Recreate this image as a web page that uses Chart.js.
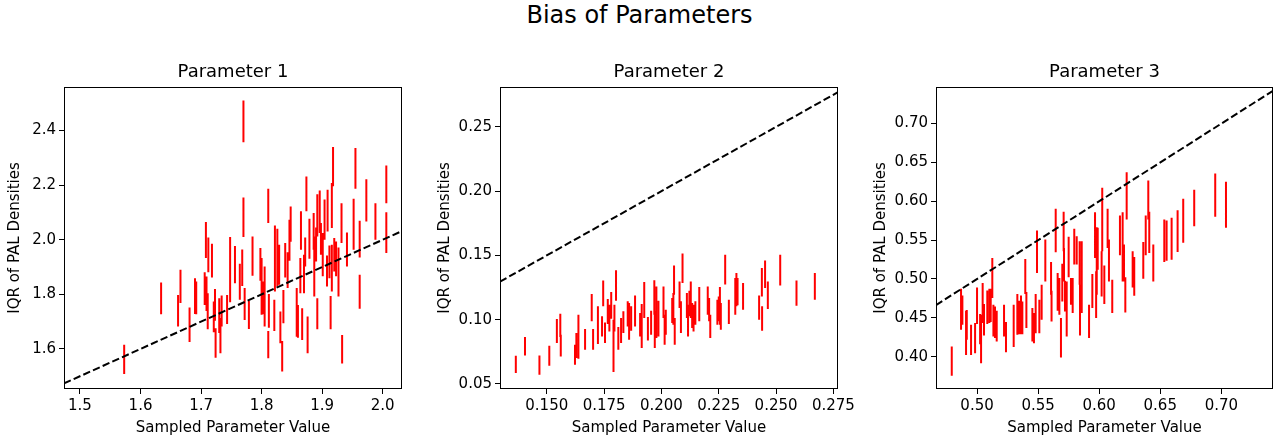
<!DOCTYPE html>
<html>
<head>
<meta charset="utf-8">
<title>Bias of Parameters</title>
<script src="https://cdn.jsdelivr.net/npm/chart.js@4.4.1/dist/chart.umd.min.js"></script>
<style>
  html, body { margin: 0; padding: 0; background: #fff; }
  #wrap { position: relative; width: 1279px; height: 441px; overflow: hidden; }
  #suptitle {
    position: absolute; top: 0; left: 0; width: 1279px;
    text-align: center; font: 24px "DejaVu Sans", sans-serif;
    line-height: 30px; color: #000;
  }
  canvas { position: absolute; top: 50px; }
</style>
</head>
<body>
<div id="wrap">
  <div id="suptitle">Bias of Parameters</div>
  <canvas id="p1"></canvas>
  <canvas id="p2"></canvas>
  <canvas id="p3"></canvas>
</div>
<script>
// ---------- data ----------
const panelTitles = ['Parameter 1', 'Parameter 2', 'Parameter 3'];
const xAxisTitle = 'Sampled Parameter Value';
const yAxisTitle = 'IQR of PAL Densities';

// tick labels per panel
const xTicks1 = ['1.5', '1.6', '1.7', '1.8', '1.9', '2.0'];
const yTicks1 = ['1.6', '1.8', '2.0', '2.2', '2.4'];
const xTicks2 = ['0.150', '0.175', '0.200', '0.225', '0.250', '0.275'];
const yTicks2 = ['0.05', '0.10', '0.15', '0.20', '0.25'];
const xTicks3 = ['0.50', '0.55', '0.60', '0.65', '0.70'];
const yTicks3 = ['0.40', '0.45', '0.50', '0.55', '0.60', '0.65', '0.70'];

// axis ranges [min, max]
const xRange1 = [1.4736, 2.0319];
const yRange1 = [1.4532, 2.5596];
const xRange2 = [0.1296, 0.2770];
const yRange2 = [0.0461, 0.2810];
const xRange3 = [0.4664, 0.7423];
const yRange3 = [0.3584, 0.7471];

// Parameter 1: sampled value, IQR lower / upper
const p1X = [1.573, 1.634, 1.662, 1.666, 1.681, 1.690, 1.692, 1.706, 1.708, 1.709, 1.711, 1.712, 1.718, 1.721, 1.723, 1.724, 1.730, 1.732, 1.734, 1.743, 1.748, 1.756, 1.764, 1.768, 1.770, 1.770, 1.772, 1.779, 1.785, 1.798, 1.800, 1.802, 1.805, 1.811, 1.811, 1.812, 1.821, 1.822, 1.826, 1.829, 1.831, 1.834, 1.836, 1.839, 1.843, 1.846, 1.848, 1.858, 1.860, 1.864, 1.865, 1.867, 1.870, 1.872, 1.874, 1.876, 1.879, 1.886, 1.887, 1.890, 1.892, 1.892, 1.896, 1.898, 1.901, 1.904, 1.908, 1.909, 1.912, 1.914, 1.916, 1.916, 1.918, 1.920, 1.923, 1.927, 1.932, 1.933, 1.941, 1.952, 1.955, 1.962, 1.962, 1.973, 1.988, 2.006, 2.006];
const p1Lo = [1.508, 1.727, 1.682, 1.768, 1.625, 1.728, 1.727, 1.761, 1.933, 1.739, 1.672, 1.881, 1.862, 1.661, 1.703, 1.568, 1.658, 1.584, 1.682, 1.691, 1.771, 1.841, 1.780, 1.831, 2.357, 2.010, 1.706, 1.673, 1.868, 1.850, 1.725, 1.727, 1.682, 2.061, 1.566, 1.678, 1.666, 1.810, 1.829, 1.835, 1.621, 1.517, 1.694, 1.862, 1.823, 1.923, 1.993, 1.645, 1.641, 1.804, 1.963, 1.633, 1.804, 1.902, 2.104, 1.584, 1.930, 1.963, 1.792, 1.920, 2.012, 1.672, 2.025, 1.945, 1.866, 2.000, 1.829, 2.030, 1.859, 1.672, 2.043, 1.810, 2.196, 1.884, 1.866, 1.792, 1.988, 1.547, 1.902, 1.963, 2.187, 1.935, 1.747, 2.067, 2.000, 2.134, 1.951];
const p1Hi = [1.615, 1.843, 1.798, 1.890, 1.752, 1.859, 1.847, 1.881, 2.065, 1.865, 1.804, 2.008, 1.985, 1.774, 1.820, 1.676, 1.786, 1.713, 1.796, 1.798, 2.010, 1.977, 1.912, 1.964, 2.510, 2.155, 1.823, 1.776, 2.012, 1.970, 1.933, 1.847, 1.902, 2.187, 1.666, 1.801, 1.780, 2.052, 2.040, 1.982, 1.737, 1.629, 1.816, 1.988, 1.954, 2.073, 2.122, 1.823, 1.761, 1.933, 2.104, 1.749, 1.945, 2.008, 2.232, 1.719, 2.077, 2.098, 2.012, 2.045, 2.167, 1.786, 2.180, 2.061, 2.025, 2.147, 1.942, 2.183, 1.979, 1.794, 2.208, 1.982, 2.340, 2.006, 1.994, 1.972, 2.134, 1.651, 2.027, 2.150, 2.336, 2.070, 1.872, 2.222, 2.134, 2.272, 2.101];

// Parameter 2
const p2X = [0.1365, 0.1405, 0.1468, 0.1511, 0.1544, 0.1559, 0.1561, 0.1623, 0.1629, 0.1638, 0.1667, 0.1696, 0.1702, 0.1723, 0.1741, 0.1746, 0.1754, 0.1766, 0.1773, 0.1781, 0.1791, 0.1795, 0.1802, 0.1812, 0.1824, 0.1834, 0.1853, 0.1859, 0.1868, 0.1885, 0.1907, 0.1914, 0.1925, 0.1941, 0.1955, 0.1969, 0.1971, 0.1978, 0.1987, 0.2009, 0.2014, 0.2019, 0.2047, 0.2052, 0.2055, 0.2058, 0.2079, 0.2085, 0.2092, 0.2111, 0.2116, 0.2122, 0.2128, 0.2134, 0.2140, 0.2148, 0.2165, 0.2202, 0.2208, 0.2213, 0.2244, 0.2250, 0.2255, 0.2259, 0.2278, 0.2294, 0.2322, 0.2327, 0.2332, 0.2356, 0.2426, 0.2438, 0.2439, 0.2452, 0.2464, 0.2518, 0.2589, 0.2669];
const p2Lo = [0.0585, 0.0722, 0.0572, 0.0642, 0.0819, 0.0865, 0.0714, 0.0650, 0.0702, 0.0696, 0.0766, 0.0987, 0.0766, 0.0811, 0.0870, 0.1104, 0.0819, 0.0966, 0.0909, 0.1008, 0.0593, 0.0909, 0.1148, 0.0766, 0.0819, 0.0896, 0.0948, 0.0844, 0.0914, 0.0948, 0.0870, 0.0780, 0.1013, 0.0839, 0.0883, 0.1039, 0.0780, 0.0857, 0.0870, 0.1013, 0.0805, 0.0883, 0.0974, 0.0961, 0.1195, 0.0805, 0.1091, 0.0896, 0.1286, 0.1013, 0.0870, 0.1026, 0.1013, 0.0935, 0.0909, 0.0961, 0.0987, 0.1039, 0.0987, 0.0857, 0.0961, 0.0987, 0.0961, 0.0922, 0.1273, 0.0966, 0.1039, 0.1104, 0.1112, 0.1078, 0.1000, 0.1181, 0.0914, 0.1247, 0.1083, 0.1267, 0.1109, 0.1156];
const p2Hi = [0.0720, 0.0865, 0.0722, 0.0797, 0.1005, 0.1047, 0.0883, 0.0805, 0.0896, 0.1039, 0.0927, 0.1200, 0.0927, 0.1104, 0.1026, 0.1304, 0.0979, 0.1161, 0.1117, 0.1216, 0.1000, 0.1117, 0.1384, 0.0943, 0.1013, 0.1065, 0.1143, 0.1130, 0.1104, 0.1189, 0.1052, 0.1122, 0.1294, 0.1021, 0.1070, 0.1306, 0.1065, 0.1259, 0.1148, 0.1259, 0.1039, 0.1078, 0.1169, 0.1208, 0.1421, 0.1013, 0.1298, 0.1143, 0.1514, 0.1208, 0.1117, 0.1226, 0.1298, 0.1130, 0.1117, 0.1143, 0.1255, 0.1259, 0.1169, 0.1039, 0.1156, 0.1181, 0.1255, 0.1130, 0.1506, 0.1156, 0.1325, 0.1364, 0.1325, 0.1286, 0.1189, 0.1403, 0.1104, 0.1460, 0.1298, 0.1506, 0.1304, 0.1364];

// Parameter 3
const p3X = [0.4793, 0.4869, 0.4880, 0.4910, 0.4916, 0.4951, 0.4984, 0.5000, 0.5025, 0.5033, 0.5046, 0.5057, 0.5084, 0.5101, 0.5112, 0.5125, 0.5134, 0.5147, 0.5161, 0.5221, 0.5237, 0.5300, 0.5330, 0.5344, 0.5360, 0.5371, 0.5395, 0.5404, 0.5453, 0.5466, 0.5480, 0.5491, 0.5510, 0.5529, 0.5559, 0.5606, 0.5610, 0.5644, 0.5660, 0.5674, 0.5687, 0.5698, 0.5709, 0.5712, 0.5720, 0.5734, 0.5750, 0.5769, 0.5783, 0.5796, 0.5816, 0.5840, 0.5843, 0.5857, 0.5917, 0.5944, 0.5966, 0.5975, 0.5980, 0.5988, 0.6020, 0.6025, 0.6042, 0.6069, 0.6080, 0.6107, 0.6170, 0.6192, 0.6203, 0.6214, 0.6225, 0.6274, 0.6287, 0.6361, 0.6381, 0.6402, 0.6410, 0.6443, 0.6533, 0.6552, 0.6593, 0.6642, 0.6688, 0.6778, 0.6950, 0.7038];
const p3Lo = [0.3756, 0.4346, 0.4410, 0.4023, 0.4217, 0.4023, 0.4045, 0.4419, 0.4161, 0.3916, 0.4432, 0.4272, 0.4419, 0.4432, 0.4445, 0.4755, 0.4259, 0.4239, 0.4195, 0.4259, 0.4058, 0.4123, 0.4281, 0.4290, 0.4290, 0.4290, 0.4806, 0.4368, 0.4195, 0.4174, 0.4303, 0.5077, 0.4303, 0.4475, 0.4969, 0.4797, 0.4453, 0.5343, 0.4591, 0.4539, 0.3988, 0.4711, 0.5356, 0.4969, 0.4582, 0.4259, 0.5021, 0.4668, 0.4561, 0.5185, 0.5185, 0.4926, 0.4272, 0.4561, 0.4239, 0.4626, 0.5271, 0.4497, 0.4797, 0.5120, 0.4775, 0.5356, 0.4677, 0.5400, 0.4969, 0.4561, 0.5305, 0.4969, 0.4969, 0.4569, 0.5765, 0.4892, 0.4785, 0.5004, 0.5305, 0.5765, 0.5335, 0.4969, 0.5219, 0.5236, 0.5249, 0.5348, 0.5465, 0.5679, 0.5800, 0.5658];
const p3Hi = [0.4130, 0.4875, 0.4788, 0.4591, 0.4600, 0.4410, 0.4432, 0.4892, 0.4548, 0.4539, 0.4948, 0.4677, 0.4853, 0.4875, 0.4875, 0.5271, 0.4668, 0.4646, 0.4591, 0.4668, 0.4445, 0.4668, 0.4806, 0.4720, 0.4788, 0.4711, 0.5258, 0.4832, 0.4626, 0.4561, 0.4806, 0.5623, 0.4733, 0.4926, 0.5507, 0.5219, 0.4850, 0.5903, 0.5077, 0.5013, 0.4497, 0.5197, 0.5865, 0.5400, 0.4978, 0.4969, 0.5542, 0.5013, 0.5013, 0.5645, 0.5550, 0.5485, 0.4926, 0.5485, 0.4668, 0.5065, 0.5860, 0.5098, 0.5666, 0.5658, 0.5356, 0.6174, 0.5172, 0.5903, 0.5507, 0.4991, 0.5817, 0.5860, 0.5443, 0.5021, 0.6375, 0.5356, 0.5284, 0.5477, 0.5817, 0.6268, 0.5865, 0.5443, 0.5765, 0.5752, 0.5787, 0.5885, 0.6032, 0.6148, 0.6359, 0.6252];

// ---------- layout (pixel boxes of each plot area) ----------
const plotBoxes = [
  { canvas: 'p1', left: 64,  right: 402,  yTitlePad: 6 },
  { canvas: 'p2', left: 500, right: 838,  yTitlePad: 0 },
  { canvas: 'p3', left: 936, right: 1273, yTitlePad: 0 }
];
const Y_AXIS_W = 64;   // room left of the plot for ticks + title
const X_AXIS_H = 52;   // room below the plot
const TITLE_H = 37;    // room above the plot for the panel title
const PAD_RIGHT = 24;  // keeps last x tick label from squeezing the plot
const CANVAS_TOP = 50;
const CANVAS_H = 441 - CANVAS_TOP;

const FONT = 'DejaVu Sans';
Chart.defaults.font.family = FONT;
Chart.defaults.color = '#000';

// matplotlib-style box round the plot area
const framePlugin = {
  id: 'frame',
  afterDatasetsDraw(chart) {
    const { ctx, chartArea: a } = chart;
    ctx.save();
    ctx.strokeStyle = '#000';
    ctx.lineWidth = 1;
    ctx.strokeRect(a.left + 0.5, a.top + 0.5, a.width - 1, a.height - 1);
    ctx.restore();
  }
};

// one vertical segment per sample, broken apart by null points
function segments(xs, lo, hi) {
  const out = [];
  xs.forEach((x, i) => {
    out.push({ x: x, y: lo[i] }, { x: x, y: hi[i] }, { x: x, y: null });
  });
  return out;
}

function makePanel(i, xs, lo, hi, xTicks, yTicks, xRange, yRange) {
  const box = plotBoxes[i];
  const canvas = document.getElementById(box.canvas);
  canvas.width = box.right - box.left + Y_AXIS_W + PAD_RIGHT;
  canvas.height = CANVAS_H;
  canvas.style.left = (box.left - Y_AXIS_W) + 'px';

  const tickFont = { family: FONT, size: 15 };

  return new Chart(canvas.getContext('2d'), {
    type: 'line',
    data: {
      datasets: [
        {
          // y = x reference line
          xAxisID: 'x',
          yAxisID: 'y',
          data: [{ x: xRange[0], y: xRange[0] }, { x: xRange[1], y: xRange[1] }],
          borderColor: '#000',
          borderWidth: 2,
          borderDash: [7.4, 3.2],
          pointRadius: 0,
          fill: false
        },
        {
          xAxisID: 'x',
          yAxisID: 'y',
          data: segments(xs, lo, hi),
          borderColor: '#ff0000',
          borderWidth: 2,
          pointRadius: 0,
          spanGaps: false,
          fill: false
        }
      ]
    },
    options: {
      responsive: false,
      animation: false,
      devicePixelRatio: 1,
      layout: { padding: { left: 0, right: PAD_RIGHT, top: 0, bottom: 0 } },
      plugins: {
        legend: { display: false },
        tooltip: { enabled: false },
        title: { display: false }
      },
      scales: {
        x: {
          type: 'linear',
          position: 'bottom',
          min: xRange[0],
          max: xRange[1],
          afterFit: (s) => { s.height = X_AXIS_H; },
          afterBuildTicks: (s) => { s.ticks = xTicks.map(t => ({ value: parseFloat(t) })); },
          ticks: {
            font: tickFont,
            padding: 3,
            maxRotation: 0,
            autoSkip: false,
            callback: (v, idx) => xTicks[idx]
          },
          grid: { drawOnChartArea: false, drawTicks: true, tickLength: 5, color: '#000' },
          border: { display: false },
          title: {
            display: true,
            text: xAxisTitle,
            font: tickFont,
            padding: { top: 0, bottom: 4 }
          }
        },
        y: {
          type: 'linear',
          position: 'left',
          min: yRange[0],
          max: yRange[1],
          afterFit: (s) => { s.width = Y_AXIS_W; },
          afterBuildTicks: (s) => { s.ticks = yTicks.map(t => ({ value: parseFloat(t) })); },
          ticks: {
            font: tickFont,
            padding: 3,
            autoSkip: false,
            callback: (v, idx) => yTicks[idx]
          },
          grid: { drawOnChartArea: false, drawTicks: true, tickLength: 5, color: '#000' },
          border: { display: false },
          title: {
            display: true,
            text: yAxisTitle,
            font: tickFont,
            padding: { top: box.yTitlePad, bottom: 0 }
          }
        },
        // empty top axis: only carries the panel title, centred over the plot
        top: {
          axis: 'x',
          type: 'linear',
          position: 'top',
          afterFit: (s) => { s.height = TITLE_H; },
          ticks: { display: false },
          grid: { display: false },
          border: { display: false },
          title: {
            display: true,
            text: panelTitles[i],
            font: { family: FONT, size: 18 },
            padding: { top: 11.2, bottom: 0 }
          }
        }
      }
    },
    plugins: [framePlugin]
  });
}

makePanel(0, p1X, p1Lo, p1Hi, xTicks1, yTicks1, xRange1, yRange1);
makePanel(1, p2X, p2Lo, p2Hi, xTicks2, yTicks2, xRange2, yRange2);
makePanel(2, p3X, p3Lo, p3Hi, xTicks3, yTicks3, xRange3, yRange3);
</script>
</body>
</html>
